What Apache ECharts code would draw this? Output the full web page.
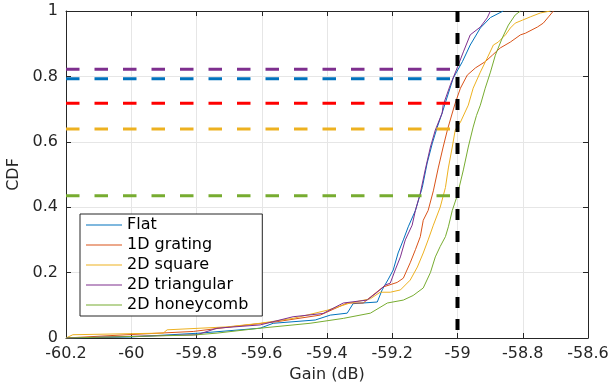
<!DOCTYPE html>
<html>
<head>
<meta charset="utf-8">
<script src="https://cdn.jsdelivr.net/npm/echarts@6/dist/echarts.min.js"></script>
<style>
  html, body { margin: 0; padding: 0; background: #fff; }
  #chart { width: 610px; height: 383px; }
</style>
</head>
<body>
<div id="chart"></div>
<script>
// CDF curves, [gain dB, cdf]
const flat = [
  [-60.2, 0], [-60.004, 0.003], [-59.789, 0.015], [-59.605, 0.03], [-59.565, 0.045],
  [-59.436, 0.055], [-59.39, 0.07], [-59.338, 0.076], [-59.32, 0.105], [-59.246, 0.11],
  [-59.231, 0.147], [-59.212, 0.18], [-59.197, 0.208], [-59.182, 0.26], [-59.166, 0.30],
  [-59.151, 0.34], [-59.129, 0.39], [-59.108, 0.46], [-59.093, 0.535], [-59.077, 0.596],
  [-59.062, 0.645], [-59.047, 0.688], [-59.037, 0.72], [-59.013, 0.795], [-58.985, 0.845],
  [-58.961, 0.896], [-58.93, 0.948], [-58.899, 0.98], [-58.86, 1.0]
];
const grating1D = [
  [-60.2, 0], [-60.013, 0.01], [-59.81, 0.02], [-59.688, 0.035], [-59.553, 0.05],
  [-59.421, 0.07], [-59.338, 0.107], [-59.289, 0.107], [-59.267, 0.125], [-59.228, 0.156],
  [-59.185, 0.17], [-59.166, 0.183], [-59.145, 0.23], [-59.129, 0.27], [-59.114, 0.31],
  [-59.105, 0.36], [-59.09, 0.39], [-59.074, 0.45], [-59.059, 0.52], [-59.044, 0.584],
  [-59.031, 0.636], [-59.016, 0.688], [-59.007, 0.718], [-58.991, 0.764], [-58.97, 0.804],
  [-58.945, 0.826], [-58.915, 0.845], [-58.893, 0.865], [-58.869, 0.887], [-58.838, 0.905],
  [-58.807, 0.927], [-58.792, 0.932], [-58.755, 0.951], [-58.737, 0.963], [-58.721, 0.982],
  [-58.706, 1.0]
];
const square2D = [
  [-60.2, 0], [-60.179, 0.01], [-59.902, 0.015], [-59.89, 0.025], [-59.706, 0.034],
  [-59.605, 0.045], [-59.504, 0.06], [-59.399, 0.085], [-59.329, 0.107], [-59.267, 0.12],
  [-59.237, 0.14], [-59.206, 0.14], [-59.175, 0.147], [-59.145, 0.177], [-59.123, 0.217],
  [-59.105, 0.26], [-59.09, 0.3], [-59.074, 0.345], [-59.053, 0.4], [-59.037, 0.46],
  [-59.028, 0.52], [-59.016, 0.584], [-59.007, 0.636], [-58.991, 0.66], [-58.967, 0.712],
  [-58.952, 0.764], [-58.93, 0.813], [-58.909, 0.856], [-58.89, 0.896], [-58.875, 0.905],
  [-58.853, 0.927], [-58.838, 0.948], [-58.823, 0.963], [-58.801, 0.972], [-58.777, 0.982],
  [-58.746, 0.994], [-58.715, 1.0]
];
const triangular2D = [
  [-60.2, 0], [-59.798, 0.01], [-59.737, 0.03], [-59.605, 0.04], [-59.504, 0.065],
  [-59.412, 0.075], [-59.35, 0.107], [-59.277, 0.116], [-59.246, 0.14], [-59.221, 0.162],
  [-59.206, 0.168], [-59.191, 0.208], [-59.175, 0.248], [-59.16, 0.3], [-59.139, 0.345],
  [-59.129, 0.39], [-59.114, 0.443], [-59.099, 0.514], [-59.083, 0.584], [-59.068, 0.636],
  [-59.047, 0.688], [-59.044, 0.712], [-59.022, 0.774], [-59.001, 0.826], [-58.982, 0.875],
  [-58.961, 0.927], [-58.93, 0.951], [-58.909, 0.979], [-58.899, 1.0]
];
const honeycomb2D = [
  [-60.2, 0], [-59.81, 0.009], [-59.737, 0.015], [-59.605, 0.03], [-59.452, 0.045],
  [-59.35, 0.06], [-59.267, 0.076], [-59.215, 0.107], [-59.166, 0.116], [-59.136, 0.13],
  [-59.105, 0.153], [-59.083, 0.2], [-59.068, 0.248], [-59.053, 0.28], [-59.037, 0.31],
  [-59.028, 0.34], [-59.016, 0.39], [-59.001, 0.435], [-58.982, 0.514], [-58.967, 0.584],
  [-58.952, 0.645], [-58.942, 0.68], [-58.93, 0.712], [-58.915, 0.764], [-58.899, 0.813],
  [-58.884, 0.865], [-58.863, 0.917], [-58.844, 0.957], [-58.823, 0.988], [-58.807, 1.0]
];

const seriesNames = ['Flat', '1D grating', '2D square', '2D triangular', '2D honeycomb'];
const seriesColors = ['#0072BD', '#D95319', '#EDB120', '#7E2F8E', '#77AC30'];
const curves = [flat, grating1D, square2D, triangular2D, honeycomb2D];

// CDF value of each design at the -59 dB threshold (dashed markers)
const thresholdGain = -59;
const levelValues = [0.822, 0.793, 0.718, 0.639, 0.435];
const levelColors = ['#7E2F8E', '#0072BD', '#FF0000', '#EDB120', '#77AC30'];

const xMin = -60.2, xMax = -58.6, xStep = 0.2;
const yMin = 0, yMax = 1, yStep = 0.2;

const font = 'DejaVu Sans';
const ink = '#262626';

const chart = echarts.init(document.getElementById('chart'), null, { renderer: 'canvas' });

const curveSeries = curves.map((data, i) => ({
  name: seriesNames[i],
  type: 'line',
  data,
  showSymbol: false,
  symbol: 'none',
  animation: false,
  lineStyle: { color: seriesColors[i], width: 1 },
  itemStyle: { color: seriesColors[i] },
  z: 3,
}));

const levelSeries = levelValues.map((v, i) => ({
  name: 'level' + i,
  type: 'line',
  data: [[xMin, v], [thresholdGain, v]],
  symbol: 'none',
  animation: false,
  lineStyle: { color: levelColors[i], width: 3, type: [13.5, 15], cap: 'butt' },
  z: 4,
}));

const thresholdSeries = {
  name: 'threshold',
  type: 'line',
  data: [[thresholdGain, yMax], [thresholdGain, yMin]],
  symbol: 'none',
  animation: false,
  lineStyle: { color: '#000', width: 4, type: [11, 11], cap: 'butt' },
  z: 5,
};

const xCommon = {
  type: 'value', min: xMin, max: xMax, interval: xStep,
  axisLine: { show: true, onZero: false, lineStyle: { color: ink, width: 1 } },
  axisTick: { show: true, inside: true, length: 5, lineStyle: { color: ink } },
};
const yCommon = {
  type: 'value', min: yMin, max: yMax, interval: yStep,
  axisLine: { show: true, onZero: false, lineStyle: { color: ink, width: 1 } },
  axisTick: { show: true, inside: true, length: 5, lineStyle: { color: ink } },
};

chart.setOption({
  animation: false,
  backgroundColor: '#fff',
  grid: { left: 66, right: 22, top: 11, bottom: 45, outerBoundsMode: 'none' },
  legend: {
    data: seriesNames,
    orient: 'vertical',
    left: 80,
    top: 214,
    padding: [1, 14, 1, 6],
    icon: 'rect',
    itemWidth: 36,
    itemHeight: 1.2,
    itemGap: 0,
    backgroundColor: '#fff',
    borderColor: ink,
    borderWidth: 1,
    borderRadius: 0,
    textStyle: { fontFamily: font, fontSize: 16, color: '#000', lineHeight: 20 },
  },
  xAxis: [
    Object.assign({}, xCommon, {
      position: 'bottom',
      name: 'Gain (dB)',
      nameLocation: 'middle',
      nameGap: 27,
      nameTextStyle: { fontFamily: font, fontSize: 16, color: ink },
      axisLabel: {
        fontFamily: font, fontSize: 16, color: ink, margin: 8,
        formatter: (v) => String(Math.round(v * 10) / 10),
      },
      splitLine: { show: true, lineStyle: { color: '#e6e6e6', width: 1 } },
    }),
    Object.assign({}, xCommon, {
      position: 'top',
      axisLabel: { show: false },
      splitLine: { show: false },
    }),
  ],
  yAxis: [
    Object.assign({}, yCommon, {
      position: 'left',
      name: 'CDF',
      nameLocation: 'middle',
      nameGap: 40,
      nameTextStyle: { fontFamily: font, fontSize: 16, color: ink },
      axisLabel: {
        fontFamily: font, fontSize: 16, color: ink, margin: 8,
        formatter: (v) => String(Math.round(v * 10) / 10),
      },
      splitLine: { show: true, lineStyle: { color: '#e6e6e6', width: 1 } },
    }),
    Object.assign({}, yCommon, {
      position: 'right',
      axisLabel: { show: false },
      splitLine: { show: false },
    }),
  ],
  series: curveSeries.concat(levelSeries, [thresholdSeries]),
});
</script>
</body>
</html>
